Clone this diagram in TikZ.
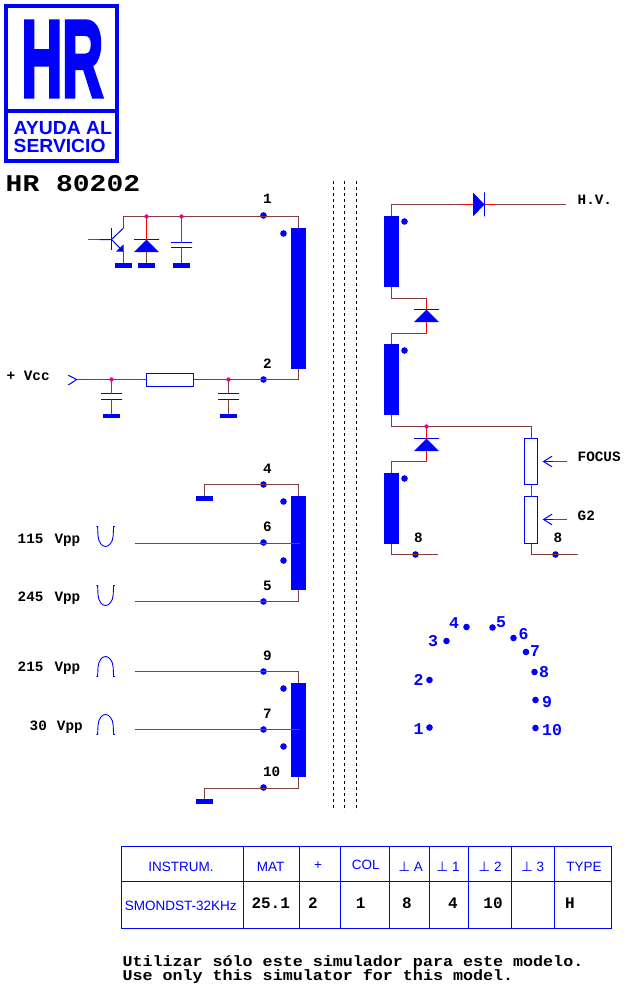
\documentclass[tikz,border=0pt]{standalone}
\usepackage{fontspec}
\newfontfamily\monofam{Liberation Mono}
\newfontfamily\titlefam[FakeStretch=1.167]{Liberation Mono}
\newfontfamily\notefam[FakeStretch=1.113]{Liberation Mono}
\newfontfamily\sansfam{Liberation Sans}
\newfontfamily\logofam[FakeBold=4]{Liberation Sans}
\newfontfamily\symbfam{DejaVu Sans}
\newcommand{\gndmark}{{\symbfam ⊥}}
\definecolor{wirecol}{RGB}{128,64,64}
\tikzset{wire/.style = {draw=wirecol, line width=1pt},
	hot/.style      = {draw=red, line width=1pt},
	winding/.style  = {rectangle, fill=blue, minimum width=15pt, inner sep=0pt, outer sep=0pt},
	pindot/.style   = {circle, fill=blue, minimum size=6.6pt, inner sep=0pt},
	junction/.style = {circle, fill=magenta, minimum size=4.4pt, inner sep=0pt},
	gnd/.style      = {rectangle, fill=blue, minimum width=17.5pt, minimum height=4.5pt, inner sep=0pt},
	plate/.style    = {rectangle, draw=blue, line width=1pt, minimum width=21pt, minimum height=0pt, inner sep=0pt, outer sep=0pt},
	resistor/.style = {rectangle, draw=blue, line width=1pt, fill=white, inner sep=0pt, outer sep=0pt},
	pinlabel/.style = {anchor=base, inner sep=0pt, font=\monofam\bfseries\fontsize{14.3}{14.3}\selectfont},
	textlabel/.style = {anchor=base west, inner sep=0pt, font=\monofam\bfseries\fontsize{14.3}{14.3}\selectfont},
	maplabel/.style = {text=blue, inner sep=0pt, font=\monofam\bfseries\fontsize{16.5}{16.5}\selectfont},
	cellhead/.style = {anchor=base, text=blue, inner sep=0pt, font=\sansfam\fontsize{13.5}{13.5}\selectfont},
	cellval/.style  = {anchor=base, inner sep=0pt, font=\monofam\bfseries\fontsize{16}{16}\selectfont},
	note/.style     = {anchor=base west, inner sep=0pt, font=\notefam\bfseries\fontsize{15}{15}\selectfont},
	wave/.style     = {draw=blue, line width=0.9pt}
}
\begin{document}
\begin{tikzpicture}[x=1pt, y=-1pt]
	\useasboundingbox (0,0) rectangle (630,992);
	% logo
	\draw[blue, line width=4pt] (6,6) rectangle (117,160.7);
	\draw[blue, line width=4pt] (6,110.7) -- (117,110.7);
	\node[text=blue, inner sep=0pt, font=\logofam\bfseries\fontsize{109}{109}\selectfont, xscale=.52, transform shape] (logohr) at (62.3,59) {HR};
	\node[anchor=south west, align=left, text=blue, inner sep=0pt, font=\sansfam\bfseries\fontsize{19}{18}\selectfont] (logotxt) at (13.5,152.6) {\scalebox{1.02}[1]{AYUDA AL}\\\scalebox{1.015}[1]{SERVICIO}};
	\node[anchor=base west, inner sep=0pt, font=\titlefam\bfseries\fontsize{24}{24}\selectfont] (title) at (5.5,191.7) {HR 80202};

	% isolation
	\foreach \x in {333.5,344.5,356.5}
		\draw[black, line width=1pt, dash pattern=on 3pt off 3pt] (\x,181) -- (\x,811);

	% windings
	\node[winding, minimum height=141pt] (w1) at (298.5,298.5) {};
	\node[winding, minimum height=94pt] (w2) at (298.5,543) {};
	\node[winding, minimum height=94pt] (w3) at (298.5,730) {};
	\node[winding, minimum height=71pt] (wa) at (391.5,251.5) {};
	\node[winding, minimum height=71pt] (wb) at (391.5,379.5) {};
	\node[winding, minimum height=71pt] (wc) at (391.5,508) {};
	\foreach \n/\x/\y in {a/283.5/233.5, b/283.5/501.5, c/283.5/560.5, d/283.5/688.5, e/283.5/746.5, f/404.5/221.5, g/404.5/350.5, h/404.5/478.5}
		\node[pindot] (ph\n) at (\x,\y) {};

	% pins
	\foreach \n/\y/\lx in {1/215.5/267.3, 2/379.5/267.3, 4/484.5/267.3, 6/542.5/267.3, 5/601.5/267.3, 9/671.5/267.3, 7/729.5/267.3, 10/787.5/271.7}{
		\node[pindot] (p\n) at (263.5,\y) {};
		\node[pinlabel] (l\n) at (\lx,\y-11.5) {\n};
	}
	\node[pindot] (p8a) at (415.5,554.5) {};
	\node[pindot] (p8b) at (555.5,554.5) {};
	\node[pinlabel] (l8a) at (418.3,542.7) {8};
	\node[pinlabel] (l8b) at (558,542.7) {8};

	% grounds
	\node[gnd] (g1) at (123.5,265.3) {};
	\node[gnd] (g2) at (146.5,265.3) {};
	\node[gnd] (g3) at (181.5,265.3) {};
	\node[gnd] (g4) at (111.5,416) {};
	\node[gnd] (g5) at (228.5,416) {};
	\node[gnd] (g6) at (204.5,498.5) {};
	\node[gnd] (g7) at (204.5,801.5) {};

	% capacitors
	\foreach \n/\x/\ya/\yb in {1/181.5/242.5/247.5, 2/111.5/393.5/399.5, 3/228.5/393.5/399.5}{
		\node[plate] (c\n t) at (\x,\ya) {};
		\node[plate] (c\n b) at (\x,\yb) {};
	}

	% diodes
	\foreach \n/\x/\y in {d1/146.5/239.5, d2/426.5/309.5, d3/426.5/438.5}{
		\node[plate, minimum width=25pt] (\n) at (\x,\y) {};
		\fill[blue] (\n.center) -- ++(-12.3,12.5) -- ++(24.6,0) -- cycle;
		\coordinate (\n k) at (\x,\y+12);
	}
	\node[plate, minimum width=0pt, minimum height=24pt] (dhv) at (484.5,204.5) {};
	\fill[blue] (dhv.center) -- ++(-11.5,-12) -- ++(0,24) -- cycle;
	\coordinate (dhvk) at (473,204.5);
	\coordinate (hvend) at (566,204.5);

	% resistors
	\node[resistor, minimum width=47pt, minimum height=13pt] (r1) at (170,380) {};
	\node[resistor, minimum width=13pt, minimum height=46pt] (rf) at (531,461.5) {};
	\node[resistor, minimum width=13pt, minimum height=47pt] (rg) at (531,520) {};

	% transistor
	\coordinate (qb) at (111.5,239.5);
	\coordinate (qin) at (88,239.5);
	\coordinate (qc) at (123.5,228);
	\coordinate (qe) at (123.5,251.7);
	\coordinate (qtop) at (123.5,216.5);
	\draw[blue, line width=1pt] (111.5,228) -- (111.5,250);
	\draw[blue, line width=1pt] (100,239.5) -- (qb) -- (qc);
	\draw[blue, line width=1pt] (qb) -- (qe);
	\fill[blue] (116,251.7) -- (123.5,244.3) -- (qe) -- cycle;
	\path[wire] (qin) -- (100,239.5);

	% junction points
	\coordinate (j1) at (146.5,216.5);
	\coordinate (j2) at (181.5,216.5);
	\coordinate (j3) at (111.5,379.5);
	\coordinate (j4) at (228.5,379.5);
	\coordinate (j5) at (426.5,426.5);

	% vcc input
	\coordinate (vcc) at (76.7,379.5);
	\draw[blue, line width=1pt] (68.3,375.3) -- (vcc) -- (68.3,385);

	% primary wires
	\path[wire] (w1.north) |- (qtop);
	\path[hot] (qtop) -- (qc);
	\path[wire] (qe) -- (g1);
	\path[hot] (j1) -- (d1);
	\path[wire] (d1k) -- (g2);
	\path[wire] (j2) -- (c1t);
	\path[wire] (c1b) -- (g3);
	\path[wire] (vcc) -- ([yshift=.5pt]r1.west);
	\path[hot] (vcc) -- ++(12,0);
	\path[hot] ([yshift=.5pt]r1.west) -- ++(-6,0);
	\path[wire] ([yshift=.5pt]r1.east) -- (p2.center) -| (w1.south);
	\path[hot] ([yshift=.5pt]r1.east) -- ++(11,0);
	\path[wire] (j3) -- (c2t);
	\path[wire] (c2b) -- (g4);
	\path[wire] (j4) -- (c3t);
	\path[wire] (c3b) -- (g5);
	\path[wire] (g6) |- (p4.center) -| (w2.north);
	\path[wire] ([yshift=-1pt]p6.center) -- ++(36,0);
	\path[wire] ([yshift=-1pt]p6.center) -- ++(-128.5,0) coordinate (e6);
	\path[wire] (w2.south) |- (p5.center) -- ++(-128.5,0) coordinate (e5);
	\path[wire] (w3.north) |- (p9.center) -- ++(-128.5,0) coordinate (e9);
	\path[wire] (p7.center) -- ++(36,0);
	\path[wire] (p7.center) -- ++(-128.5,0) coordinate (e7);
	\path[wire] (g7) |- ([yshift=-1pt]p10.center) -| (w3.south);

	% secondary wires
	\path[wire] (wa.north) |- (dhvk);
	\path[hot] (dhvk) -- ++(-12,0);
	\path[wire] (dhv) -- (hvend);
	\path[hot] (dhv) -- ++(11,0);
	\path[wire] (wa.south) -- ++(0,11.5) -| (d2);
	\path[hot] (d2) -- ++(0,-11);
	\path[wire] (d2k) -- ++(0,12) -| (wb.north);
	\path[hot] (d2k) -- ++(0,11.5);
	\path[wire] (wb.south) |- (j5) -| ([xshift=.5pt]rf.north);
	\path[hot] ([xshift=.5pt]rf.north) -- ++(0,-5.5);
	\path[hot] (j5) -- (d3);
	\path[wire] (d3k) -- ++(0,11) -| (wc.north);
	\path[hot] (d3k) -- ++(0,10.5);
	\path[wire] (wc.south) |- (p8a.center) -- ++(22.5,0) coordinate (e8a);
	\path[wire] ([xshift=.5pt]rf.south) -- ([xshift=.5pt]rg.north);
	\path[wire] ([xshift=.5pt]rg.south) |- (p8b.center) -- ++(22.5,0) coordinate (e8b);
	\path[hot] ([xshift=.5pt]rg.south) -- ++(0,10);

	% magenta dots
	\foreach \j in {j1,j2,j3,j4,j5}
		\node[junction] (n\j) at (\j) {};

	% sliders
	\foreach \n/\y in {f/461.5,g/519.5}{
		\coordinate (\n e) at (567,\y);
		\coordinate (\n m) at (553,\y);
		\path[wire] (\n e) -- (\n m);
		\draw[blue, line width=1pt] (552,\y-5.3) -- (543.5,\y) -- (552,\y+5.3);
		\draw[blue, line width=1pt] (\n m) -- (543.5,\y);
		\path[hot] (\n e) -- ++(-2.5,0);
	}

	% waveforms
	\foreach \y/\s in {526.5/1, 585.5/1, 676.5/-1, 734.5/-1}
		\path[wave] (96.3,\y) -- ++(1.3,0) -- ++(.4,\s*9) .. controls +(.4,\s*7) and +(-3.5,0) .. ++(7.5,\s*11) .. controls +(3.5,0) and +(-.4,\s*7) .. ++(7.7,\s*-11) -- ++(.4,\s*-9) -- ++(1.3,0);

	% labels
	\node[textlabel] (tvcc) at (6.5,380) {+ Vcc};
	\node[textlabel] (t115) at (17.5,543) {115\hspace{2.5pt} Vpp};
	\node[textlabel] (t245) at (17.5,601.5) {245\hspace{2.5pt} Vpp};
	\node[textlabel] (t215) at (17.5,671.5) {215\hspace{2.5pt} Vpp};
	\node[textlabel] (t30) at (29.5,730) {30\hspace{1.5pt} Vpp};
	\node[textlabel] (thv) at (577.5,205) {H.V.};
	\node[textlabel] (tfocus) at (577.5,461.6) {FOCUS};
	\node[textlabel] (tg2) at (577.5,520) {G2};

	% pin map
	\foreach \n/\x/\y/\lx/\ly in {1/429.5/727.5/418.5/729, 2/429.5/680/418.5/680, 3/446.5/641/433/641, 4/466.5/627/454/623, 5/492.5/627.5/501/622, 6/513.5/638/523.5/634, 7/526/652/535/651, 8/534.5/672/544/672, 9/535.5/700/547/702, 10/535.5/728/552/730}{
		\node[pindot] (m\n) at (\x,\y) {};
		\node[maplabel] (ml\n) at (\lx,\ly) {\n};
	}

	% table
	\draw[blue, line width=1pt] (121.5,846.5) rectangle (611.5,928.5);
	\draw[blue, line width=1pt] (121.5,881.5) -- (611.5,881.5);
	\foreach \x in {243.5,299.5,340.5,389.5,429.5,468.5,511.5,554.5}
		\draw[blue, line width=1pt] (\x,846.5) -- (\x,928.5);
	\foreach \n/\x/\y/\t in {1/181/871.3/INSTRUM., 2/270.7/871.3/MAT, 3/318/869.3/+, 4/365.7/869.3/COL, 5/410.7/871.3/\gndmark{} A, 6/448/871.3/\gndmark{} 1, 7/490/871.3/\gndmark{} 2, 8/532.7/871.3/\gndmark{} 3, 9/584/871.3/TYPE}
		\node[cellhead] (h\n) at (\x,\y) {\t};
	\node[cellhead] (instr) at (180.7,910) {SMONDST-32KHz};
	\foreach \n/\x/\t in {1/270.7/25.1, 2/313/2, 3/360.7/1, 4/407/8, 5/453/4, 6/493/10, 7/570/H}
		\node[cellval] (v\n) at (\x,908.3) {\t};

	% remarks
	\node[note] (esp) at (122.3,966) {Utilizar sólo este simulador para este modelo.};
	\node[note] (eng) at (122.3,980.7) {Use only this simulator for this model.};
\end{tikzpicture}
\end{document}
